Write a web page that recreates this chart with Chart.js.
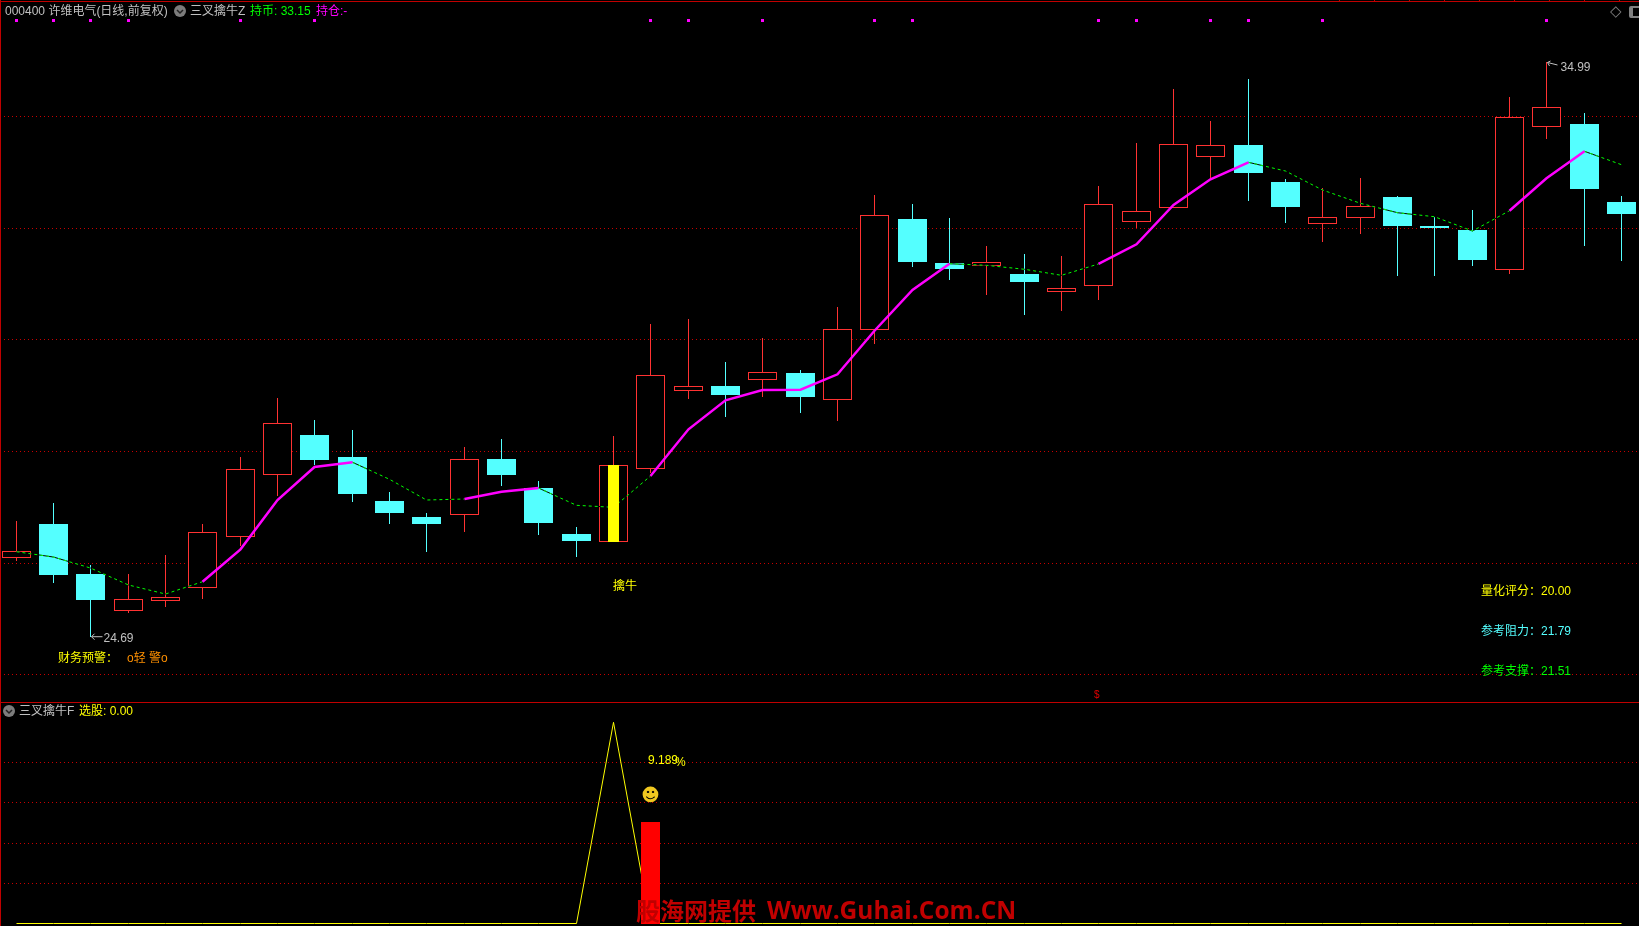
<!DOCTYPE html>
<html>
<head>
<meta charset="utf-8">
<title>000400</title>
<script src="https://cdn.jsdelivr.net/npm/chart.js@4/dist/chart.umd.min.js"></script>
<style>
  html, body { margin: 0; padding: 0; background: #000; overflow: hidden; }
  #page { position: relative; width: 1639px; height: 926px; background: #000; overflow: hidden; }
  canvas { position: absolute; left: 0; display: block; }
  .t { position: absolute; font: 12px "Liberation Sans", "Noto Sans CJK SC", sans-serif; line-height: 14px; white-space: pre; transform: translateY(-50%); }
  .rule { position: absolute; background: #c00000; }
  .knob { position: absolute; width: 12px; height: 12px; border-radius: 50%; background: #7c7c7c; }
  .knob svg { display: block; }
</style>
</head>
<body>
<div id="page">
  <canvas id="main" width="1639" height="702" style="top:0;width:1639px;height:702px"></canvas>
  <canvas id="lower" width="1639" height="223" style="top:703px;width:1639px;height:223px"></canvas>

  <div class="rule" style="left:0;top:1px;width:1639px;height:1px"></div>
  <div class="rule" style="left:1339px;top:0;width:300px;height:1px;background:repeating-linear-gradient(90deg,#c00000 0 1px,transparent 1px 35px)"></div>
  <div class="rule" style="left:0;top:0;width:1px;height:926px"></div>
  <div class="rule" style="left:0;top:702px;width:1639px;height:1px"></div>

  <span class="t" style="left:5px;top:11px;color:#c0c0c0">000400 许维电气(日线,前复权)</span>
  <div class="knob" style="left:174px;top:5px"><svg width="12" height="12"><polyline points="3,5 6,8 9,5" fill="none" stroke="#222" stroke-width="1.5"/></svg></div>
  <span class="t" style="left:190px;top:11px;color:#c0c0c0">三叉擒牛Z</span>
  <span class="t" style="left:250px;top:11px;color:#00ff00">持币: 33.15</span>
  <span class="t" style="left:316px;top:11px;color:#ff00ff">持仓:-</span>

  <span class="t" style="left:1610px;top:11px;color:#808080;font:15px 'DejaVu Sans'">◇</span>
  <div style="position:absolute;left:1629px;top:6px;width:14px;height:8px;border:2px solid #808080;border-left-width:4px;border-radius:2px"></div>

  <span class="t" style="left:58px;top:658px;color:#ffff00">财务预警：</span>
  <span class="t" style="left:127px;top:658px;color:#ff9000">o轻 警o</span>
  <span class="t" style="left:613px;top:586px;color:#ffff00">擒牛</span>
  <span class="t" style="left:1481px;top:591px;color:#ffff00">量化评分：20.00</span>
  <span class="t" style="left:1481px;top:631px;color:#54ffff">参考阻力：21.79</span>
  <span class="t" style="left:1481px;top:671px;color:#00ff00">参考支撑：21.51</span>
  <span class="t" style="left:1094px;top:695px;color:#e00000;font-size:10px">$</span>

  <div class="knob" style="left:3px;top:705px"><svg width="12" height="12"><polyline points="3,5 6,8 9,5" fill="none" stroke="#222" stroke-width="1.5"/></svg></div>
  <span class="t" style="left:19px;top:711px;color:#c0c0c0">三叉擒牛F</span>
  <span class="t" style="left:79px;top:711px;color:#ffff00">选股: 0.00</span>
  <span class="t" style="left:648px;top:760px;color:#ffff00">9.189</span>
  <span class="t" style="left:675px;top:762px;color:#ffff00">%</span>
  <span class="t" style="left:641px;top:794px;color:#f0c820;font:18px 'DejaVu Sans'">☻</span>

  <span class="t" style="left:636px;top:909px;color:#c00000;font:bold 24px 'Noto Sans CJK SC'">股海网提供</span>
  <span class="t" style="left:767px;top:909px;color:#c00000;font:bold 24.5px 'Open Sans'">Www.Guhai.Com.CN</span>
</div>

<script>
const opens = [
  26.101, 26.710, 25.814, 25.151, 25.330, 25.563, 26.477, 27.588, 28.305, 27.911, 27.122,
  26.835, 26.871, 27.875, 27.355, 26.531, 26.387, 27.696, 29.093, 29.183, 29.291, 29.416,
  28.932, 30.187, 32.176, 31.388, 31.334, 31.190, 30.868, 30.975, 32.122, 32.373, 33.287,
  33.502, 32.839, 32.086, 32.194, 32.570, 32.051, 31.979, 31.262, 33.825, 33.879, 32.481
];
const closes = [
  26.226, 25.796, 25.348, 25.366, 25.402, 26.566, 27.696, 28.520, 27.857, 27.248, 26.907,
  26.710, 27.875, 27.588, 26.728, 26.405, 27.767, 29.380, 29.183, 29.022, 29.434, 28.986,
  30.205, 32.248, 31.405, 31.280, 31.405, 31.047, 30.939, 32.445, 32.319, 33.520, 33.502,
  33.000, 32.391, 32.212, 32.409, 32.051, 32.015, 31.441, 34.004, 34.183, 32.714, 32.266
];
const highs = [
  26.764, 27.086, 25.975, 25.814, 26.154, 26.710, 27.911, 28.968, 28.574, 28.395, 27.283,
  26.907, 28.090, 28.233, 27.481, 26.656, 28.287, 30.294, 30.384, 29.613, 30.043, 29.470,
  30.599, 32.606, 32.445, 32.194, 31.692, 31.549, 31.513, 32.768, 33.538, 34.506, 33.932,
  34.685, 32.893, 32.732, 32.911, 32.588, 32.212, 32.337, 34.363, 34.99, 34.076, 32.588
];
const lows = [
  26.047, 25.652, 24.69, 25.115, 25.222, 25.366, 26.316, 27.212, 27.767, 27.104, 26.710,
  26.208, 26.566, 27.391, 26.513, 26.118, 26.387, 27.624, 28.950, 28.628, 28.986, 28.699,
  28.556, 29.936, 31.316, 31.083, 30.814, 30.456, 30.527, 30.724, 32.015, 32.373, 32.875,
  32.499, 32.104, 31.764, 31.907, 31.155, 31.155, 31.334, 31.190, 33.610, 31.692, 31.423
];
const maValues = [
  26.213, 26.118, 25.921, 25.617, 25.455, 25.676, 26.256, 27.140, 27.731, 27.816, 27.511,
  27.140, 27.158, 27.289, 27.355, 27.045, 27.009, 27.570, 28.407, 28.927, 29.111, 29.117,
  29.393, 30.174, 30.904, 31.375, 31.346, 31.275, 31.167, 31.370, 31.723, 32.427, 32.888,
  33.192, 33.036, 32.696, 32.457, 32.289, 32.217, 31.961, 32.325, 32.905, 33.389, 33.149
];
const risingRuns = [[5, 9], [12, 14], [17, 25], [29, 33], [40, 42]];
const topDotIndexes = [0, 1, 2, 3, 6, 8, 17, 18, 20, 23, 24, 29, 30, 32, 33, 35, 41];
const topDotPrice = 35.734;
const signalIndex = 16;
const gridPrices = [24.01, 26.0, 28.01, 30.02, 32.01, 34.01];
const lowestIndex = 2;
const highestIndex = 41;

const lowerLine = [
  0, 0, 0, 0, 0, 0, 0, 0, 0, 0, 0, 0, 0, 0, 0, 0, 5, 0, 0, 0, 0, 0,
  0, 0, 0, 0, 0, 0, 0, 0, 0, 0, 0, 0, 0, 0, 0, 0, 0, 0, 0, 0, 0, 0
];
const lowerBarIndex = 17;
const lowerBarValue = 2.52;
const lowerGrid = [1, 2, 3, 4];

const RED = '#ff3232';
const CYAN = '#54ffff';
const indexes = opens.map((_, i) => i);
const isUp = (i) => closes[i] >= opens[i];
const inRising = (i) => risingRuns.some(([a, b]) => i >= a && i <= b);
// a falling stretch keeps the run's end points so both lines join up
const inFalling = (i) => !risingRuns.some(([a, b]) => i > a && i < b);

const xAxis = {
  type: 'linear',
  display: false,
  offset: false,
  bounds: 'data',
  min: -0.42884,
  max: 43.4729
};

function yAxis(min, max, ticks) {
  return {
    type: 'linear',
    bounds: 'data',
    min,
    max,
    afterBuildTicks: (axis) => { axis.ticks = ticks.map((value) => ({ value })); },
    afterFit: (axis) => { axis.width = 0; },
    ticks: { display: false },
    grid: { color: '#c80000', lineWidth: 1, drawTicks: false },
    border: { display: false, dash: [1, 3] }
  };
}

// the original is drawn on whole pixels, so snap the marks before painting
const snapPlugin = {
  id: 'snap',
  beforeDatasetsDraw(chart) {
    chart.getSortedVisibleDatasetMetas().forEach((meta) => {
      meta.data.forEach((el) => {
        el.x = Math.floor(el.x) + 0.5;
        if (meta.type === 'bar') {
          el.y = Math.round(el.y);
          el.base = Math.round(el.base);
        }
      });
    });
  }
};

const extremesPlugin = {
  id: 'extremes',
  afterDatasetsDraw(chart) {
    const { ctx, scales } = chart;
    const lowX = Math.floor(scales.x.getPixelForValue(lowestIndex)) + 0.5;
    const lowY = scales.y.getPixelForValue(lows[lowestIndex]);
    const highX = Math.floor(scales.x.getPixelForValue(highestIndex)) + 0.5;
    const highY = scales.y.getPixelForValue(highs[highestIndex]);

    ctx.save();
    ctx.strokeStyle = '#c0c0c0';
    ctx.fillStyle = '#c0c0c0';
    ctx.lineWidth = 1;
    ctx.beginPath();
    ctx.moveTo(lowX + 12, lowY);
    ctx.lineTo(lowX + 1, lowY);
    ctx.moveTo(lowX + 4, lowY - 3);
    ctx.lineTo(lowX + 1, lowY);
    ctx.lineTo(lowX + 4, lowY + 3);
    ctx.moveTo(highX + 11, highY + 3);
    ctx.lineTo(highX + 1, highY + 0.5);
    ctx.moveTo(highX + 4, highY - 1);
    ctx.lineTo(highX + 1, highY + 0.5);
    ctx.lineTo(highX + 3, highY + 4);
    ctx.stroke();
    ctx.font = '12px "Liberation Sans"';
    ctx.textBaseline = 'middle';
    ctx.fillText(lows[lowestIndex].toFixed(2), lowX + 13, lowY + 2);
    ctx.fillText(highs[highestIndex].toFixed(2), highX + 14, highY + 6);
    ctx.restore();
  }
};

new Chart(document.getElementById('main'), {
  type: 'bar',
  data: {
    datasets: [
      {
        label: 'wicks',
        order: 7,
        data: indexes.map((i) => ({ x: i, y: [lows[i], highs[i]] })),
        backgroundColor: indexes.map((i) => (isUp(i) ? RED : CYAN)),
        barPercentage: 1,
        categoryPercentage: 1,
        maxBarThickness: 1,
        grouped: false,
        inflateAmount: 0
      },
      {
        label: 'bodies',
        order: 6,
        data: indexes.map((i) => ({ x: i, y: [opens[i], closes[i]] })),
        backgroundColor: indexes.map((i) => (isUp(i) ? '#000000' : CYAN)),
        borderColor: indexes.map((i) => (isUp(i) ? RED : CYAN)),
        borderWidth: 1,
        borderSkipped: false,
        barPercentage: 1,
        categoryPercentage: 1,
        maxBarThickness: 29,
        grouped: false,
        inflateAmount: 0
      },
      {
        type: 'line',
        label: 'ma falling backing',
        order: 5,
        data: indexes.map((i) => ({ x: i, y: inFalling(i) ? maValues[i] : null })),
        borderColor: '#000000',
        borderWidth: 1,
        pointRadius: 0
      },
      {
        type: 'line',
        label: 'ma falling',
        order: 4,
        data: indexes.map((i) => ({ x: i, y: inFalling(i) ? maValues[i] : null })),
        borderColor: '#00ff00',
        borderWidth: 1,
        borderDash: [3, 3],
        pointRadius: 0
      },
      {
        type: 'line',
        label: 'ma rising',
        order: 3,
        data: indexes.map((i) => ({ x: i, y: inRising(i) ? maValues[i] : null })),
        borderColor: '#ff00ff',
        borderWidth: 2.5,
        pointRadius: 0
      },
      {
        label: 'signal',
        order: 2,
        data: [{ x: signalIndex, y: [opens[signalIndex], closes[signalIndex]] }],
        backgroundColor: '#ffff00',
        barPercentage: 1,
        categoryPercentage: 1,
        maxBarThickness: 11,
        grouped: false,
        inflateAmount: 0
      },
      {
        type: 'line',
        label: 'top dots',
        order: 1,
        data: topDotIndexes.map((i) => ({ x: i, y: topDotPrice })),
        showLine: false,
        pointStyle: 'rect',
        pointRadius: 2.13,
        pointBorderWidth: 0,
        pointBackgroundColor: '#ff00ff'
      }
    ]
  },
  options: {
    responsive: false,
    animation: false,
    layout: { padding: 0, autoPadding: false },
    plugins: { legend: { display: false }, tooltip: { enabled: false } },
    scales: { x: xAxis, y: yAxis(23.52, 36.101, gridPrices) }
  },
  plugins: [snapPlugin, extremesPlugin]
});

new Chart(document.getElementById('lower'), {
  type: 'bar',
  data: {
    datasets: [
      {
        label: 'bar',
        order: 1,
        data: [{ x: lowerBarIndex, y: lowerBarValue }],
        backgroundColor: '#ff0000',
        barPercentage: 1,
        categoryPercentage: 1,
        maxBarThickness: 19,
        grouped: false,
        inflateAmount: 0
      },
      {
        type: 'line',
        label: 'pick',
        order: 2,
        data: indexes.map((i) => ({ x: i, y: lowerLine[i] })),
        borderColor: '#ffff00',
        borderWidth: 1,
        pointRadius: 0
      }
    ]
  },
  options: {
    responsive: false,
    animation: false,
    layout: { padding: 0, autoPadding: false },
    plugins: { legend: { display: false }, tooltip: { enabled: false } },
    scales: { x: xAxis, y: yAxis(-0.062, 5.48, lowerGrid) }
  },
  plugins: [snapPlugin]
});
</script>
</body>
</html>
